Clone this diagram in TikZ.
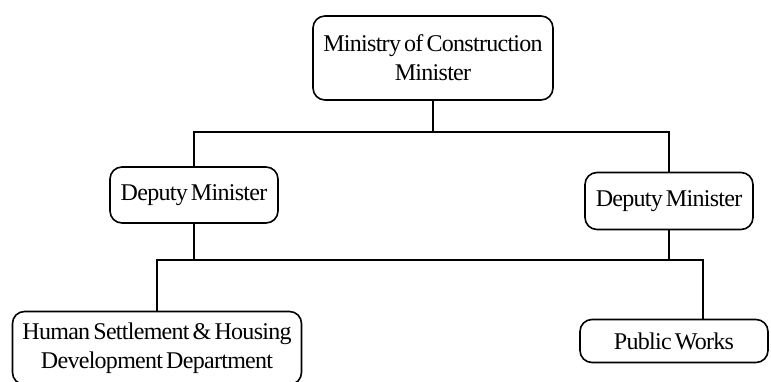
\documentclass[tikz,border=0pt]{standalone}
\usepackage{fontspec}
\setmainfont{Liberation Serif}[LetterSpace=-3, WordSpace=0.6]
\tikzset{
  orgbox/.style={draw, line width=1.6pt, rounded corners=12pt, align=center,
    inner sep=2pt, font=\fontsize{24}{29}\selectfont},
  link/.style={line width=1.6pt}
}
\begin{document}
\begin{tikzpicture}[x=1pt, y=1pt]
  \useasboundingbox (0,0) rectangle (771,-381);
  \node[orgbox, minimum width=240, minimum height=84](ministry) at (433, -58) {Ministry of Construction\\Minister};
  \node[orgbox, minimum width=168, minimum height=56](depL) at (194, -195) {Deputy Minister};
  \node[orgbox, minimum width=168, minimum height=57](depR) at (669, -201) {Deputy Minister};
  \node[orgbox, minimum width=289, minimum height=73](human) at (157, -348) {Human Settlement \& Housing\\Development Department};
  \node[orgbox, minimum width=188, minimum height=43](public) at (674, -341) {Public Works};
  \coordinate(topbus) at (433, -132);
  \coordinate(lowbus) at (430, -260);
  \draw[link](ministry) -- (topbus);
  \draw[link](depL.north) |- (topbus) -| (depR.north);
  \draw[link](depL.south) -- (depL.south |- lowbus);
  \draw[link](depR.south) -- (depR.south |- lowbus);
  \draw[link](human.north) |- (lowbus) -| ([xshift=29pt]public.north);
\end{tikzpicture}
\end{document}
